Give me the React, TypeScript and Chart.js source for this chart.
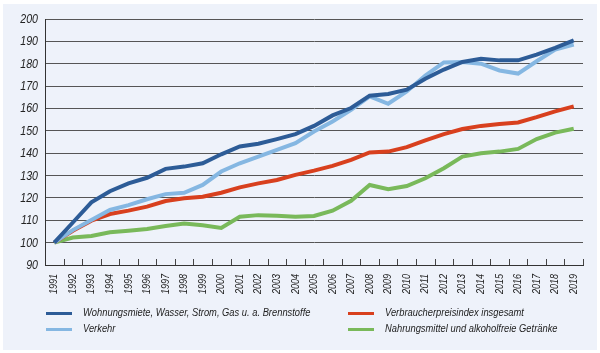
import React, { useEffect, useRef } from "react";
import { Chart, registerables } from "chart.js";
Chart.register(...registerables);

const years = [
  "1991", "1992", "1993", "1994", "1995", "1996", "1997", "1998", "1999", "2000",
  "2001", "2002", "2003", "2004", "2005", "2006", "2007", "2008", "2009", "2010",
  "2011", "2012", "2013", "2014", "2015", "2016", "2017", "2018", "2019",
];

const wohnung = [
  100, 109, 118, 123, 126.5, 129, 133, 134, 135.5, 139.5,
  143, 144.2, 146.3, 148.5, 152.2, 156.9, 160.2, 165.7, 166.5, 168.4,
  173.3, 177.4, 180.8, 182.2, 181.5, 181.5, 184.1, 187.1, 190.4,
];
const verkehr = [
  100, 105.6, 110.1, 114.6, 116.8, 119.4, 121.7, 122.3, 125.8, 131.8,
  135.5, 138.5, 141.5, 144.5, 149.7, 154.2, 159.4, 165.4, 162.1, 167.6,
  174.7, 180.6, 180.8, 180.0, 177.0, 175.6, 181.1, 186.3, 188.6,
];
const vpi = [
  100, 105.3, 109.8, 112.8, 114.3, 116.1, 118.6, 119.8, 120.5, 122.3,
  124.7, 126.5, 128.0, 130.3, 132.2, 134.3, 137.0, 140.3, 140.7, 142.7,
  145.7, 148.5, 150.8, 152.2, 153.0, 153.7, 156.1, 158.7, 160.9,
];
const nahrung = [
  100, 102.3, 103.0, 104.6, 105.3, 106.1, 107.4, 108.6, 107.8, 106.6,
  111.6, 112.3, 112.0, 111.6, 111.9, 114.3, 118.7, 125.8, 123.9, 125.3,
  128.8, 133.3, 138.5, 140.0, 140.7, 141.9, 146.3, 149.2, 150.9,
];

const seriesNames = [
  "Wohnungsmiete, Wasser, Strom, Gas u. a. Brennstoffe",
  "Verkehr",
  "Verbraucherpreisindex insgesamt",
  "Nahrungsmittel und alkoholfreie Getränke",
];
const seriesColors = ["#2d5c97", "#85b7e2", "#d8401e", "#79b95a"];

const yMin = 90;
const yMax = 200;
const yStep = 10;
const yTickValues = [90, 100, 110, 120, 130, 140, 150, 160, 170, 180, 190, 200];

const FONT = "'Liberation Sans', Arial, sans-serif";

export default function App() {
  const ref = useRef<HTMLCanvasElement>(null);

  useEffect(() => {
    document.body.style.margin = "0";
    const axisDecor = {
      id: "axisDecor",
      afterDraw(chart: any) {
        const x = chart.scales.x;
        const y = chart.scales.y;
        const ctx = chart.ctx;
        ctx.save();
        // inner tick marks at category boundaries
        ctx.strokeStyle = "#444";
        ctx.lineWidth = 1;
        for (let i = 1; i <= years.length; i++) {
          const px = Math.round(x.getPixelForValue(i - 0.5)) + 0.5;
          ctx.beginPath();
          ctx.moveTo(px, y.bottom);
          ctx.lineTo(px, y.bottom - 6);
          ctx.stroke();
        }
        ctx.fillStyle = "#222";
        // y labels (condensed italic)
        ctx.font = `italic 12.5px ${FONT}`;
        ctx.textAlign = "right";
        ctx.textBaseline = "middle";
        for (const v of yTickValues) {
          const py = y.getPixelForValue(v);
          ctx.save();
          ctx.translate(y.right - 7, py + 0.5);
          ctx.scale(0.85, 1);
          ctx.fillText(String(v), 0, 0);
          ctx.restore();
        }
        // x labels rotated (condensed italic)
        ctx.font = `italic 11px ${FONT}`;
        for (let i = 0; i < years.length; i++) {
          const px = x.getPixelForValue(i);
          ctx.save();
          ctx.translate(px, y.bottom + 9);
          ctx.rotate(-Math.PI / 2);
          ctx.scale(0.82, 1);
          ctx.textAlign = "right";
          ctx.textBaseline = "middle";
          ctx.fillText(years[i], 0, 0);
          ctx.restore();
        }
        ctx.restore();
      },
    };
    const data = [wohnung, verkehr, vpi, nahrung];
    const chart = new Chart(ref.current as HTMLCanvasElement, {
      type: "line",
      data: {
        labels: years,
        datasets: data.map((d, i) => ({
          label: seriesNames[i],
          data: d,
          borderColor: seriesColors[i],
          backgroundColor: seriesColors[i],
          borderWidth: 4,
          pointRadius: 0,
          tension: 0,
          fill: false,
          order: i === 0 ? 0 : i + 1,
        })),
      },
      options: {
        animation: false,
        responsive: false,
        layout: { padding: { top: 19, right: 17, left: 0, bottom: 0 } },
        plugins: { legend: { display: false }, tooltip: { enabled: false } },
        scales: {
          x: {
            offset: true,
            grid: { display: false, drawTicks: false },
            border: { display: true, color: "#333", width: 1 },
            ticks: { display: false, autoSkip: false },
            afterFit(scale: any) {
              scale.height = 88;
            },
          },
          y: {
            min: yMin,
            max: yMax,
            grid: { color: "#555", lineWidth: 1, drawTicks: false },
            border: { display: true, color: "#333", width: 1 },
            ticks: { display: false, stepSize: yStep },
            afterFit(scale: any) {
              scale.width = 45;
            },
          },
        },
      },
      plugins: [axisDecor],
    });
    return () => chart.destroy();
  }, []);

  const legendRows = [
    { i: 0, left: 46, top: 313 },
    { i: 1, left: 46, top: 329 },
    { i: 2, left: 348, top: 313 },
    { i: 3, left: 348, top: 329 },
  ];

  return (
    <div style={{ position: "relative", width: 600, height: 353, background: "#ffffff", overflow: "hidden" }}>
      <div style={{ position: "absolute", left: 3, top: 4, width: 594, height: 346, background: "#eef2fa" }} />
      <canvas ref={ref} width={600} height={353} style={{ position: "absolute", left: 0, top: 0, width: 600, height: 353 }} />
      {legendRows.map((r) => (
        <React.Fragment key={r.i}>
          <div
            style={{
              position: "absolute",
              left: r.left,
              top: r.top - 1.5,
              width: 26,
              height: 3,
              background: seriesColors[r.i],
            }}
          />
          <div
            style={{
              position: "absolute",
              left: r.left + 37,
              top: r.top - 9,
              height: 16,
              lineHeight: "16px",
              fontFamily: FONT,
              fontStyle: "italic",
              fontSize: 11,
              color: "#222",
              whiteSpace: "nowrap",
              transform: "scaleX(0.85)",
              transformOrigin: "0 50%",
            }}
          >
            {seriesNames[r.i]}
          </div>
        </React.Fragment>
      ))}
    </div>
  );
}
